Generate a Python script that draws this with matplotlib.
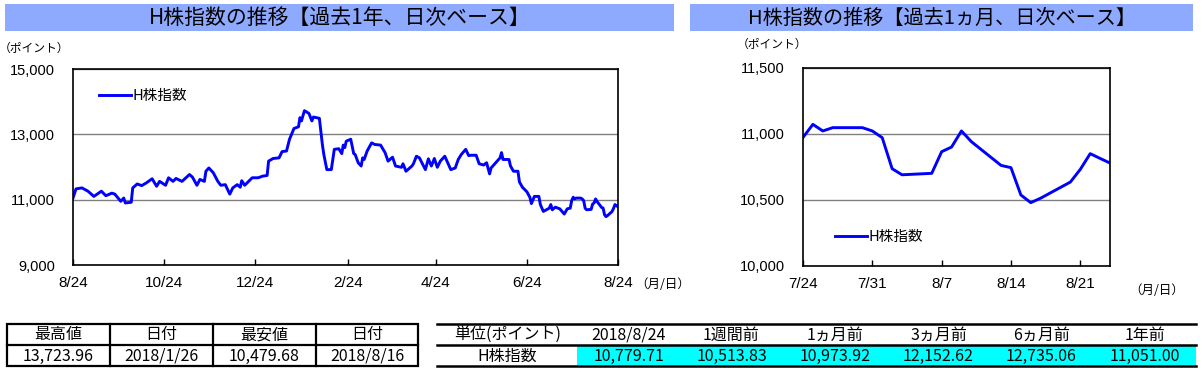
import matplotlib
matplotlib.use('Agg')

import numpy as np
import pandas as pd
import matplotlib.pyplot as plt
from matplotlib.patches import Rectangle

plt.rcParams['font.family'] = ['Noto Sans CJK JP', 'DejaVu Sans']

# ---- data ----
# past 1 year, days counted from 2017/8/24
year_days = [0, 2, 6, 10, 14, 19, 22, 26, 28, 32, 34, 35, 39, 40, 43, 46, 49, 53, 56, 58,
             62, 64, 67, 69, 73, 78, 80, 83, 85, 88, 89, 91, 94, 97, 99, 102, 105, 107, 110, 112,
             113, 115, 120, 124, 127, 130, 131, 134, 138, 140, 143, 145, 148, 151, 152, 153, 155, 158, 160, 161,
             165, 167, 168, 170, 173, 175, 178, 180, 181, 182, 183, 186, 188, 189, 191, 193, 194, 195, 197, 200,
             202, 206, 209, 211, 214, 216, 220, 221, 223, 227, 228, 230, 232, 236, 238, 240, 242, 244, 246, 249,
             253, 256, 258, 260, 263, 265, 267, 270, 272, 275, 277, 279, 280, 284, 286, 287, 288, 292, 293, 295,
             298, 299, 301, 304, 306, 307, 309, 312, 313, 315, 319, 320, 321, 323, 326, 329, 331, 333, 334, 335,
             336, 337, 340, 341, 342, 343, 344, 347, 348, 349, 350, 351, 354, 355, 356, 357, 358, 361, 362, 363,
             364, 365]
year_values = [11051, 11330, 11360, 11260, 11100, 11260, 11120, 11200, 11170, 10950, 11050, 10900, 10920, 11360, 11480, 11430, 11510, 11640, 11410, 11560,
               11440, 11670, 11560, 11650, 11560, 11770, 11690, 11440, 11620, 11560, 11870, 11970, 11820, 11560, 11440, 11460, 11170, 11360, 11460, 11380,
               11580, 11440, 11670, 11670, 11720, 11740, 12180, 12260, 12280, 12470, 12490, 12850, 13180, 13230, 13510, 13410, 13724, 13640, 13410, 13530,
               13490, 12690, 12380, 11920, 11920, 12540, 12560, 12410, 12670, 12590, 12790, 12850, 12410, 12380, 12130, 12030, 12280, 12230, 12490, 12740,
               12690, 12670, 12440, 12180, 12300, 12030, 11990, 12100, 11870, 12030, 12100, 12330, 12280, 11920, 12250, 12030, 12260, 11990, 12180, 12330,
               11920, 11970, 12230, 12380, 12540, 12350, 12360, 12360, 12100, 12060, 12130, 11790, 11970, 12180, 12280, 12440, 12230, 12230, 12030, 11870,
               11870, 11540, 11380, 11240, 11070, 10880, 11100, 11100, 10850, 10640, 10740, 10850, 10690, 10770, 10720, 10560, 10720, 10740, 10974, 11073,
               11023, 11048, 11048, 11023, 10972, 10737, 10691, 10702, 10866, 10901, 11023, 10942, 10762, 10745, 10538, 10480, 10514, 10636, 10732, 10851,
               10815, 10780]

# past 1 month
month_dates = ['2018-07-24', '2018-07-25', '2018-07-26', '2018-07-27', '2018-07-30', '2018-07-31',
               '2018-08-01', '2018-08-02', '2018-08-03', '2018-08-06', '2018-08-07', '2018-08-08',
               '2018-08-09', '2018-08-10', '2018-08-13', '2018-08-14', '2018-08-15', '2018-08-16',
               '2018-08-17', '2018-08-20', '2018-08-21', '2018-08-22', '2018-08-23', '2018-08-24']
month_values = [10974, 11073, 11023, 11048, 11048, 11023,
                10972, 10737, 10691, 10702, 10866, 10901,
                11023, 10942, 10762, 10745, 10538, 10480,
                10514, 10636, 10732, 10851, 10815, 10780]

year_ticks = ['2017-08-24', '2017-10-24', '2017-12-24', '2018-02-24', '2018-04-24', '2018-06-24', '2018-08-24']
month_ticks = ['2018-07-24', '2018-07-31', '2018-08-07', '2018-08-14', '2018-08-21']
year_yticks = [9000, 11000, 13000, 15000]
month_yticks = [10000, 10500, 11000, 11500]

hilo_header = ['最高値', '日付', '最安値', '日付']
hilo_values = ['13,723.96', '2018/1/26', '10,479.68', '2018/8/16']

change_header = ['単位(ポイント)', '2018/8/24', '1週間前', '1ヵ月前', '3ヵ月前', '6ヵ月前', '1年前']
change_label = 'H株指数'
change_values = [10779.71, 10513.83, 10973.92, 12152.62, 12735.06, 11051.00]

W, H = 1202, 373
BLUE = '#0000ff'
BAR = '#8eaaff'


def px_axes(fig, x0, y0, x1, y1):
    return fig.add_axes([x0 / W, 1 - y1 / H, (x1 - x0) / W, (y1 - y0) / H])


def draw_chart(ax, dates, values, xticks, yticks, legend_xy):
    ax.plot(dates, values, color=BLUE, lw=2.1, label='H株指数', solid_joinstyle='round')
    ax.set_xlim(pd.Timestamp(xticks[0]), dates[-1])
    ax.set_ylim(yticks[0], yticks[-1])
    ax.set_yticks(yticks)
    ax.set_yticklabels([f'{v:,}' for v in yticks], family='Liberation Sans', fontsize=10.5)
    tk = pd.to_datetime(xticks)
    ax.set_xticks(tk)
    ax.set_xticklabels([f'{d.month}/{d.day}' for d in tk], family='Liberation Sans', fontsize=11)
    ax.tick_params(axis='y', length=0, pad=13)
    ax.tick_params(axis='x', direction='in', length=4, width=1, pad=8)
    ax.grid(axis='y', color='#808080', lw=1)
    ax.set_axisbelow(True)
    for s in ax.spines.values():
        s.set_linewidth(1.2)
    ax.legend(loc='center left', bbox_to_anchor=legend_xy, frameon=False, fontsize=10.5,
              handlelength=2.2, handletextpad=0.1, borderpad=0, borderaxespad=0)


fig = plt.figure(figsize=(W / 100, H / 100), dpi=100)

ax1 = px_axes(fig, 73, 69, 618, 265)
year_dates = pd.Timestamp('2017-08-24') + pd.to_timedelta(year_days, unit='D')
draw_chart(ax1, year_dates, year_values, year_ticks, year_yticks, (0.048, 0.862))

ax2 = px_axes(fig, 803, 68, 1110, 266)
draw_chart(ax2, pd.to_datetime(month_dates), month_values, month_ticks, month_yticks, (0.104, 0.146))

# overlay in pixel coordinates for title bars, notes and tables
ov = fig.add_axes([0, 0, 1, 1])
ov.set_xlim(0, W)
ov.set_ylim(H, 0)
ov.axis('off')

ov.add_patch(Rectangle((5, 4), 669, 27, color=BAR, lw=0))
ov.add_patch(Rectangle((690, 4), 503, 27, color=BAR, lw=0))
ov.text(340, 18, 'H株指数の推移【過去1年、日次ベース】', fontsize=15, ha='center', va='center')
ov.text(942, 18, 'H株指数の推移【過去1ヵ月、日次ベース】', fontsize=14.5, ha='center', va='center')

ov.text(34, 48, '（ポイント）', fontsize=8.5, ha='center', va='center')
ov.text(772, 44, '（ポイント）', fontsize=8.5, ha='center', va='center')
ov.text(663, 285, '（月/日）', fontsize=9, ha='center', va='center')
ov.text(1157, 290, '（月/日）', fontsize=9, ha='center', va='center')

# high / low table
lw_t = 1.6
col_x = [7, 110, 213, 316, 418]
ov.add_patch(Rectangle((7, 324), 411, 42, fill=False, ec='black', lw=lw_t))
ov.plot([7, 418], [345, 345], color='black', lw=lw_t)
for x in col_x[1:-1]:
    ov.plot([x, x], [324, 366], color='black', lw=lw_t)
for i in range(4):
    cx = (col_x[i] + col_x[i + 1]) / 2
    ov.text(cx, 335, hilo_header[i], fontsize=11.5, ha='center', va='center')
    ov.text(cx, 356, hilo_values[i], fontsize=11.5, ha='center', va='center')

# change table
ov.add_patch(Rectangle((577, 346), 619, 19, color='#00ffff', lw=0))
for y in [324, 345, 366]:
    ov.plot([437, 1196], [y, y], color='black', lw=1.8)
tab_x = [437, 578, 680, 783, 887, 990, 1093, 1196]
cells = [change_label] + [f'{v:,.2f}' for v in change_values]
for i in range(7):
    cx = (tab_x[i] + tab_x[i + 1]) / 2
    ov.text(cx, 335, change_header[i], fontsize=11.5, ha='center', va='center')
    ov.text(cx, 356, cells[i], fontsize=11.5, ha='center', va='center')

fig.savefig('out.png', dpi=100)
